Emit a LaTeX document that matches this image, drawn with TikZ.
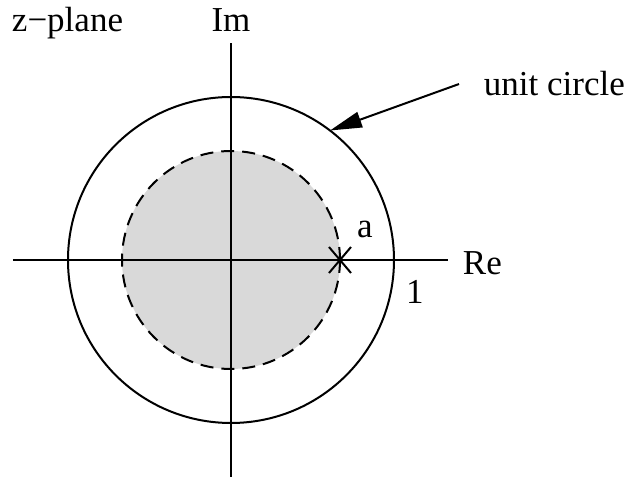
\documentclass[tikz,border=0pt]{standalone}
\usepackage{fontspec}
\setmainfont{Liberation Serif}
\usepackage{xcolor}
\usepackage{tikz}
\usetikzlibrary{arrows.meta,positioning}
\definecolor{diskgray}{gray}{0.85}
\tikzset{
  planelbl/.style={font=\fontsize{17.5}{21}\selectfont,inner sep=0pt,anchor=base},
}

\begin{document}
\begin{tikzpicture}[x=0.5pt,y=0.5pt,line width=1pt]
  \useasboundingbox (-231,-217) rectangle (398,260);
  % shaded region |z|<a
  \fill[diskgray] (0,0) circle (109);
  \draw[dash pattern=on 6.5pt off 4pt] (0,0) circle (109);
  % unit circle
  \draw (0,0) circle (163);
  % axes
  \coordinate (reL) at (-218,0);
  \coordinate (reR) at (217,0);
  \coordinate (imB) at (0,-218);
  \coordinate (imT) at (0,217);
  \draw (reL) -- (reR);
  \draw (imB) -- (imT);
  % pole at z=a
  \coordinate (pole) at (109,0);
  \draw ([shift={(-11,-13)}]pole) -- ([shift={(11,13)}]pole);
  \draw ([shift={(-11,13)}]pole) -- ([shift={(11,-13)}]pole);
  % labels
  \node[planelbl] (zlbl) at (-163.5,228) {z−plane};
  \node[planelbl] (imlbl) at (0,228) {Im};
  \node[planelbl,anchor=base west] (relbl) at (231,-15) {Re};
  \node[planelbl] (albl) at (134,22) {a};
  \node[planelbl] (onelbl) at (184,-44) {1};
  \node[planelbl,anchor=base west] (uclbl) at (252,164) {unit circle};
  \coordinate (uctip) at (52.6:163);
  \draw[-{Triangle[length=16pt,width=8pt]}] ([xshift=-12pt]uclbl.west) -- (uctip);
\end{tikzpicture}
\end{document}
